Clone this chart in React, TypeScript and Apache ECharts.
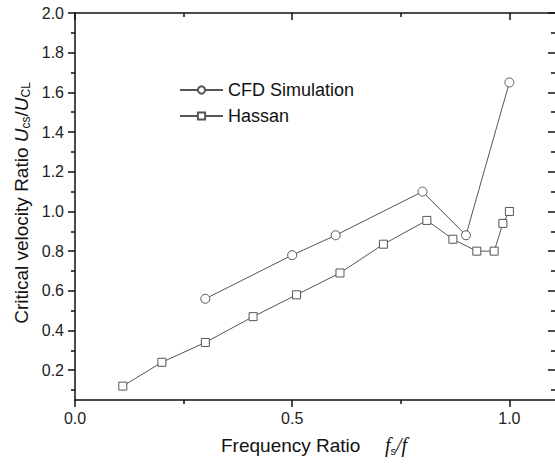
import React, { useEffect, useRef } from 'react';
import * as echarts from 'echarts';

const seriesNames = ['CFD Simulation', 'Hassan'];
const cfdX = [0.30, 0.50, 0.60, 0.80, 0.90, 1.00];
const cfdY = [0.56, 0.78, 0.88, 1.10, 0.88, 1.65];
const hassanX = [0.11, 0.20, 0.30, 0.41, 0.51, 0.61, 0.71, 0.81, 0.87, 0.925, 0.965, 0.985, 1.0];
const hassanY = [0.12, 0.24, 0.34, 0.47, 0.58, 0.69, 0.835, 0.955, 0.86, 0.80, 0.80, 0.94, 1.0];

const xMajor = [0, 0.5, 1.0];
const xMinor = [0.25, 0.75];
const yMajor = [0.2, 0.4, 0.6, 0.8, 1.0, 1.2, 1.4, 1.6, 1.8, 2.0];
const yMinor = [0.1, 0.3, 0.5, 0.7, 0.9, 1.1, 1.3, 1.5, 1.7, 1.9];
const xRange = [0, 1.105];
const yRange = [0.05, 2.0];

export default function App() {
  const ref = useRef<HTMLDivElement>(null);
  useEffect(() => {
    const chart = echarts.init(ref.current!, undefined, { renderer: 'svg' });
    const font = 'Liberation Sans, Arial, sans-serif';
    const serif = 'Liberation Serif, Times New Roman, serif';
    const lineCol = '#111';
    const mk = (dim: 'x' | 'y', position: string, ticks: number[], len: number, inside: boolean, showLine: boolean, labels: boolean) => {
      const range = dim === 'x' ? xRange : yRange;
      return {
        type: 'value',
        position,
        min: range[0],
        max: range[1],
        offset: 0,
        axisLine: { show: showLine, onZero: false, lineStyle: { color: lineCol, width: 1.5 } },
        axisTick: { show: true, customValues: ticks, length: len, inside, lineStyle: { color: lineCol, width: 1.5 } },
        axisLabel: labels
          ? { show: true, customValues: ticks, margin: dim === 'x' ? 10 : 11, fontSize: 16, color: '#222', fontFamily: font, formatter: (v: number) => v.toFixed(1) }
          : { show: false },
        splitLine: { show: false },
      };
    };
    chart.setOption({
      animation: false,
      backgroundColor: '#fff',
      grid: { left: 75, top: 13, width: 482, height: 387, containLabel: false },
      xAxis: [
        mk('x', 'bottom', xMajor, 7, false, true, true),
        mk('x', 'bottom', xMinor, 4, false, false, false),
        mk('x', 'top', xMajor, 7, true, true, false),
        mk('x', 'top', xMinor, 4, true, false, false),
      ],
      yAxis: [
        mk('y', 'left', yMajor, 7, false, true, true),
        mk('y', 'left', yMinor, 4, false, false, false),
        mk('y', 'right', yMajor, 7, true, false, false),
        mk('y', 'right', yMinor, 4, true, false, false),
      ],
      legend: {
        orient: 'vertical',
        left: 179,
        top: 81,
        padding: 0,
        itemWidth: 43,
        itemHeight: 9,
        itemGap: 8,
        textStyle: { fontSize: 18, color: '#111', fontFamily: font },
        data: seriesNames,
      },
      series: [
        {
          name: seriesNames[0],
          type: 'line',
          data: cfdX.map((x, i) => [x, cfdY[i]]),
          symbol: 'circle',
          symbolSize: 9,
          lineStyle: { color: '#555', width: 1 },
          itemStyle: { color: '#fff', borderColor: '#555', borderWidth: 1 },
          z: 3,
        },
        {
          name: seriesNames[1],
          type: 'line',
          data: hassanX.map((x, i) => [x, hassanY[i]]),
          symbol: 'rect',
          symbolSize: 8,
          lineStyle: { color: '#555', width: 1 },
          itemStyle: { color: '#fff', borderColor: '#555', borderWidth: 1 },
          z: 3,
        },
      ],
      graphic: [
        {
          type: 'text',
          left: 221,
          top: 436,
          style: { text: 'Frequency Ratio', fontSize: 19, fill: '#111', fontFamily: font },
        },
        {
          type: 'text',
          left: 385,
          top: 435,
          style: {
            text: '{i|f}{s|s}{n|/}{i|f}',
            fill: '#111',
            rich: {
              i: { fontSize: 20, fontStyle: 'italic', fontFamily: serif, lineHeight: 22, fill: '#111' },
              n: { fontSize: 20, fontStyle: 'italic', fontFamily: serif, lineHeight: 22, fill: '#111' },
              s: { fontSize: 11, fontFamily: font, lineHeight: 12, verticalAlign: 'bottom', fill: '#111' },
            },
          },
        },
        {
          type: 'text',
          x: 21,
          y: 203,
          rotation: Math.PI / 2,
          style: {
            text: 'Critical velocity Ratio {i|U}{s|cs}{n|/}{i|U}{s|CL}',
            fontSize: 19,
            fontFamily: font,
            fill: '#111',
            align: 'center',
            verticalAlign: 'middle',
            lineHeight: 22,
            rich: {
              i: { fontSize: 19, fontStyle: 'italic', fontFamily: font, lineHeight: 22, fill: '#111' },
              n: { fontSize: 19, fontFamily: font, lineHeight: 22, fill: '#111' },
              s: { fontSize: 12, fontFamily: font, lineHeight: 12, verticalAlign: 'bottom', fill: '#111' },
            },
          },
        },
      ],
    });
    return () => chart.dispose();
  }, []);
  return <div ref={ref} style={{ position: 'fixed', left: 0, top: 0, width: 555, height: 467 }} />;
}
